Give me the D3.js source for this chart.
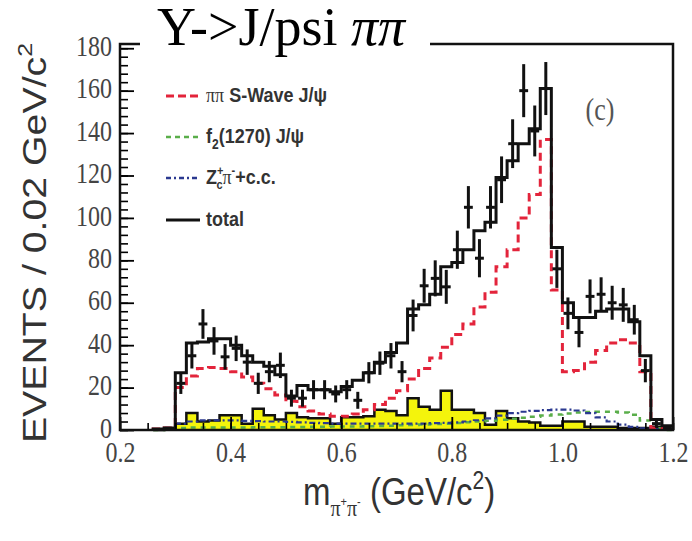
<!DOCTYPE html>
<html>
<head>
<meta charset="utf-8">
<script src="https://cdn.jsdelivr.net/npm/d3@7"></script>
<style>
  body { margin: 0; background: #fff; }
  svg { display: block; }
</style>
</head>
<body>
<div id="chart"></div>
<script>
// lower edge of each 0.02 GeV/c^2 bin
const massLow = [0.26, 0.28, 0.30, 0.32, 0.34, 0.36, 0.38, 0.40, 0.42, 0.44,
  0.46, 0.48, 0.50, 0.52, 0.54, 0.56, 0.58, 0.60, 0.62, 0.64,
  0.66, 0.68, 0.70, 0.72, 0.74, 0.76, 0.78, 0.80, 0.82, 0.84,
  0.86, 0.88, 0.90, 0.92, 0.94, 0.96, 0.98, 1.00, 1.02, 1.04,
  1.06, 1.08, 1.10, 1.12, 1.14, 1.16, 1.18]
const binW = 0.02

// fit components, events per bin
const totalFit = [0.5, 1, 27, 41, 41.5, 43, 43, 40, 35, 32,
  30, 26, 16, 21, 19, 19, 18, 20.5, 23.5, 27,
  32, 36.5, 41, 57, 59, 64, 77, 79, 85, 94,
  98, 119, 127, 135, 142, 161, 86, 60, 53, 53,
  56, 57, 57, 51, 35, 5, 2]
const sWave = [0.5, 1, 20, 25.5, 29, 29.5, 29, 27.5, 25, 22,
  19.5, 16.5, 13.5, 11, 9, 7.5, 6.5, 6.5, 7.5, 9.5,
  12, 15, 18.5, 24, 29, 34, 39, 45, 50, 58,
  65, 77, 85, 100, 111, 137, 66, 27.5, 28, 32,
  37.5, 41, 42.5, 41, 27.5, 1, 0.5]
const f2Comp = [0, 0.3, 1, 1.2, 1.2, 1.2, 1.2, 1.2, 1.2, 1.3,
  1.3, 1.3, 1.4, 1.4, 1.5, 1.5, 1.6, 1.6, 1.7, 1.8,
  1.9, 2, 2.2, 2.4, 2.6, 2.8, 3, 3.3, 3.6, 4,
  4.4, 4.8, 5.3, 5.8, 6.3, 6.8, 7.3, 7.8, 8.2, 8.5,
  8.6, 8.6, 8.2, 7.2, 4.5, 0.8, 0]
const zcComp = [0.3, 1, 3, 4, 4.5, 4.5, 4.5, 4.5, 4.3, 4.2,
  4, 4, 3.8, 3.6, 3.4, 3.2, 3, 3, 3, 3,
  3, 3, 3, 3, 3, 3.2, 3.4, 3.6, 4, 4.6,
  5.5, 6.8, 8, 8.6, 9, 9.4, 9.6, 9.6, 9.2, 8,
  6, 4, 2.5, 1.5, 0.8, 0.4, 0.2]
// sideband background (yellow)
const bkg = [0, 0.5, 3, 8, 4, 4.5, 7, 7, 3, 10,
  7, 5, 8, 6, 5.5, 5.5, 3, 6, 6, 6.5,
  9.5, 9, 7, 15, 11, 9.5, 18.5, 9.5, 9.5, 8,
  2.5, 9, 5.5, 4, 3.5, 2, 2, 4, 4, 1.5,
  1.5, 1.5, 1, 1, 1, 1.5, 0.5]

// data points and errors (null where no point is drawn)
const dataEvents = [null, null, 22, 35, 50, 42, 34.5, 38.5, 32, 22,
  27.5, 30.5, 15, 15, 19, 19, 17, 19, 14, 27,
  31.5, 35, 27.5, 54, 68, 71.5, 67.5, 85, 105, 81,
  105, 118, 135, 160, 141, 161, 76, 55, 46, 63,
  64, 60, 59, 52, 28, 3, 1]
const dataErr = [null, null, 5, 6, 7, 6.5, 6, 6, 6, 5,
  5, 6, 4, 4, 4.5, 4.5, 4, 4.5, 4, 5,
  5.5, 6, 5, 7.5, 8, 8.5, 8, 9, 10, 9,
  10, 11, 11.5, 12.5, 12, 12.5, 9, 7.5, 7, 8,
  8, 8, 8, 7, 5.5, 2, 1]

const xTicks = [0.2, 0.4, 0.6, 0.8, 1.0, 1.2]
const yTicks = [0, 20, 40, 60, 80, 100, 120, 140, 160, 180]

const W = 692, H = 541
const plot = {left: 120, right: 673, top: 44, bottom: 430}
const red = '#e3243b', green = '#5aae4a', blue = '#2b3990', yellow = '#f4f40c'

const x = d3.scaleLinear().domain([0.2, 1.2]).range([plot.left, plot.right])
const y = d3.scaleLinear().domain([0, 182]).range([plot.bottom, plot.top])

const svg = d3.select('#chart').append('svg')
  .attr('width', W)
  .attr('height', H)

// histogram outline: rise from zero, one step per bin
function stepPoints(vals) {
  const pts = [[massLow[0], 0]]
  vals.forEach((v, i) => pts.push([massLow[i], v]))
  pts.push([massLow[massLow.length - 1] + binW, vals[vals.length - 1]])
  return pts
}
const stepLine = d3.line().curve(d3.curveStepAfter)
  .x(d => x(d[0])).y(d => y(d[1]))
const stepArea = d3.area().curve(d3.curveStepAfter)
  .x(d => x(d[0])).y0(y(0)).y1(d => y(d[1]))

const graph = svg.append('g').classed('graph', true)

// yellow background
graph.append('path')
  .attr('d', stepArea(stepPoints(bkg)))
  .attr('fill', yellow)
graph.append('path')
  .attr('d', stepLine(stepPoints(bkg)))
  .attr('fill', 'none').attr('stroke', '#111').attr('stroke-width', 2.5)

// fit components
graph.append('path')
  .attr('d', stepLine(stepPoints(f2Comp)))
  .attr('fill', 'none').attr('stroke', green).attr('stroke-width', 2.5)
  .attr('stroke-dasharray', '5,5')
graph.append('path')
  .attr('d', stepLine(stepPoints(zcComp)))
  .attr('fill', 'none').attr('stroke', blue).attr('stroke-width', 2.2)
  .attr('stroke-dasharray', '6,3,2,3')
graph.append('path')
  .attr('d', stepLine(stepPoints(sWave)))
  .attr('fill', 'none').attr('stroke', red).attr('stroke-width', 3)
  .attr('stroke-dasharray', '8,5')
graph.append('path')
  .attr('d', stepLine(stepPoints(totalFit)))
  .attr('fill', 'none').attr('stroke', '#111').attr('stroke-width', 3)

// data crosses
const pts = massLow.map((m, i) => ({m: m + binW / 2, v: dataEvents[i], e: dataErr[i]}))
  .filter(d => d.v !== null)
const cross = graph.append('g').classed('data', true)
  .attr('stroke', '#111').attr('stroke-width', 3)
  .selectAll('g').data(pts).enter().append('g')
cross.append('line')
  .attr('x1', d => x(d.m)).attr('x2', d => x(d.m))
  .attr('y1', d => y(Math.max(d.v - d.e, 0))).attr('y2', d => y(d.v + d.e))
cross.append('line')
  .attr('x1', d => x(d.m - 0.008)).attr('x2', d => x(d.m + 0.008))
  .attr('y1', d => y(d.v)).attr('y2', d => y(d.v))

// axes, ticks pointing inward
const axisFont = g => g.selectAll('text')
  .attr('font-family', 'Liberation Serif, serif')
  .attr('font-size', 24)
  .attr('fill', '#444')
  .attr('transform', 'scale(1,1.2)')

svg.append('g')
  .attr('transform', `translate(${plot.left},0)`)
  .call(d3.axisLeft(y).tickValues(d3.range(0, 181, 4)).tickSize(-8).tickSizeOuter(0).tickFormat(''))
  .call(g => g.select('.domain').remove())
  .call(g => g.selectAll('line').attr('stroke-width', 1.6))
svg.append('g')
  .attr('transform', `translate(${plot.left},0)`)
  .call(d3.axisLeft(y).tickValues(yTicks).tickSize(-14).tickSizeOuter(0).tickPadding(8))
  .call(g => g.select('.domain').remove())
  .call(g => g.selectAll('line').attr('stroke-width', 1.8))
  .call(axisFont)
  .call(g => g.selectAll('text').attr('dy', '0.25em'))

svg.append('g')
  .attr('transform', `translate(0,${plot.bottom})`)
  .call(d3.axisBottom(x).tickValues(d3.range(0.2, 1.201, 0.05)).tickSize(-7).tickSizeOuter(0).tickFormat(''))
  .call(g => g.select('.domain').remove())
  .call(g => g.selectAll('line').attr('stroke-width', 1.6))
svg.append('g')
  .attr('transform', `translate(0,${plot.bottom})`)
  .call(d3.axisBottom(x).tickValues(xTicks).tickSize(-13).tickSizeOuter(0).tickPadding(10)
    .tickFormat(d3.format('.1f')))
  .call(g => g.select('.domain').remove())
  .call(g => g.selectAll('line').attr('stroke-width', 1.8))
  .call(axisFont)

// frame
svg.append('rect')
  .attr('x', plot.left).attr('y', plot.top)
  .attr('width', plot.right - plot.left).attr('height', plot.bottom - plot.top)
  .attr('fill', 'none').attr('stroke', '#111').attr('stroke-width', 2.5)

// title sits over the top edge of the frame
svg.append('rect')
  .attr('x', 140).attr('y', 0).attr('width', 290).attr('height', 47)
  .attr('fill', '#fff')
const title = svg.append('text')
  .attr('x', 157).attr('y', 45)
  .attr('font-family', 'Liberation Serif, serif')
  .attr('font-size', 54)
  .attr('fill', '#000')
title.append('tspan').text('Y->J/psi ')
title.append('tspan').attr('font-style', 'italic').text('ππ')

// panel tag
svg.append('text')
  .attr('transform', 'translate(600,120) scale(1,1.2)')
  .attr('text-anchor', 'middle')
  .attr('font-family', 'Liberation Serif, serif')
  .attr('font-size', 26)
  .attr('fill', '#555')
  .text('(c)')

// legend
const legendRows = [
  {y: 96, color: red, dash: '8,4', width: 3},
  {y: 137, color: green, dash: '5,4', width: 2.5},
  {y: 178, color: blue, dash: '5,3,2,3', width: 2.5},
  {y: 220, color: '#111', dash: null, width: 3}
]
const legend = svg.append('g').classed('legend', true)
legend.selectAll('line').data(legendRows).enter().append('line')
  .attr('x1', 166).attr('x2', 200)
  .attr('y1', d => d.y).attr('y2', d => d.y)
  .attr('stroke', d => d.color)
  .attr('stroke-width', d => d.width)
  .attr('stroke-dasharray', d => d.dash)

const legText = legendRows.map(r => legend.append('text')
  .attr('transform', `translate(206,${r.y + 6}) scale(1,1.15)`)
  .attr('font-family', 'Liberation Sans, Arial, sans-serif')
  .attr('font-weight', 'bold')
  .attr('font-size', 18)
  .attr('fill', '#333'))

legText[0].append('tspan').attr('font-family', 'Liberation Serif, serif').attr('font-weight', 'normal').text('ππ')
legText[0].append('tspan').text(' S-Wave J/ψ')

legText[1].append('tspan').text('f')
legText[1].append('tspan').attr('font-size', 12).attr('dy', 5).text('2')
legText[1].append('tspan').attr('dy', -5).text('(1270) J/ψ')

legText[2].append('tspan').text('Z')
legText[2].append('tspan').attr('font-size', 11).attr('dy', -8).text('+')
legText[2].append('tspan').attr('font-size', 11).attr('dx', -7).attr('dy', 12).text('c')
legText[2].append('tspan').attr('font-family', 'Liberation Serif, serif').attr('font-weight', 'normal').attr('dy', -4).text('π')
legText[2].append('tspan').attr('font-size', 11).attr('dy', -8).text('-')
legText[2].append('tspan').attr('dy', 8).text('+c.c.')

legText[3].text('total')

// axis titles
const yTitle = svg.append('text')
  .attr('transform', 'translate(46,243) rotate(-90) scale(1.19,1)')
  .attr('text-anchor', 'middle')
  .attr('font-family', 'Liberation Sans, Arial, sans-serif')
  .attr('font-size', 33)
  .attr('fill', '#333')
yTitle.append('tspan').text('EVENTS / 0.02 GeV/c')
yTitle.append('tspan').attr('font-size', 21).attr('dy', -14).text('2')

const xTitle = svg.append('text')
  .attr('transform', 'translate(303,505) scale(1,1.2)')
  .attr('font-family', 'Liberation Sans, Arial, sans-serif')
  .attr('font-size', 33)
  .attr('fill', '#333')
xTitle.append('tspan').text('m')
xTitle.append('tspan').attr('font-family', 'Liberation Serif, serif').attr('font-size', 20).attr('dy', 9).text('π')
xTitle.append('tspan').attr('font-size', 11).attr('dy', -8).text('+')
xTitle.append('tspan').attr('font-family', 'Liberation Serif, serif').attr('font-size', 20).attr('dy', 8).text('π')
xTitle.append('tspan').attr('font-size', 11).attr('dy', -8).text('-')
xTitle.append('tspan').attr('dy', -1).text(' (GeV/c')
xTitle.append('tspan').attr('font-size', 21).attr('dy', -13).text('2')
xTitle.append('tspan').attr('dy', 13).text(')')
</script>
</body>
</html>
